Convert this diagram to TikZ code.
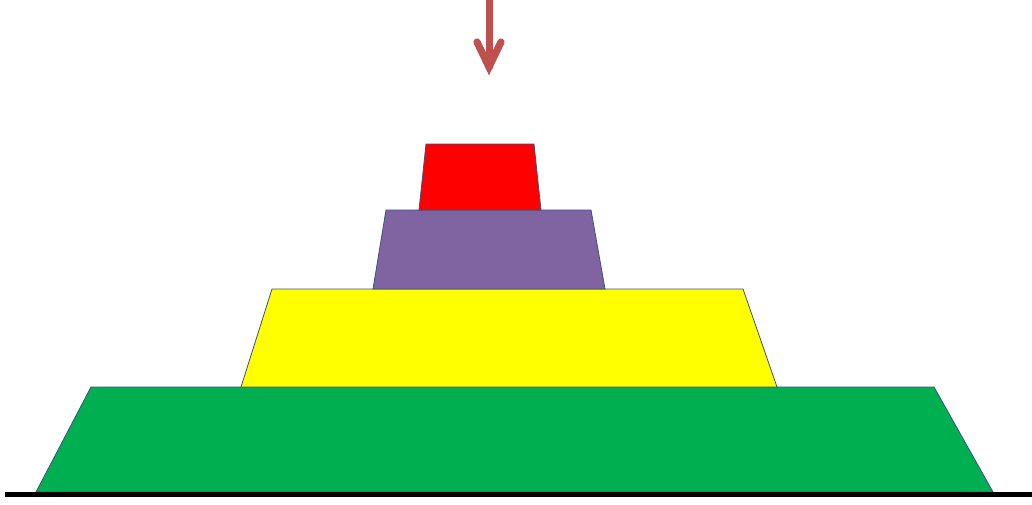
\documentclass[tikz,border=0pt]{standalone}
\usetikzlibrary{calc}
\definecolor{tgreen}{RGB}{0,176,80}
\definecolor{tyellow}{RGB}{255,255,0}
\definecolor{tpurple}{RGB}{128,100,162}
\definecolor{tred}{RGB}{255,0,0}
\definecolor{tedge}{RGB}{56,83,130}
\definecolor{tarrow}{RGB}{192,80,77}
\definecolor{tshadow}{RGB}{150,150,150}
\tikzset{
  layer/.style={draw=tedge, line width=0.8pt, line join=miter},
  arrowline/.style={draw=tarrow, line width=7pt, line cap=round, line join=miter},
  arrowshadow/.style={draw=tshadow, line width=7pt, line cap=round, line join=miter}
}
\begin{document}
\begin{tikzpicture}[x=1pt,y=-1pt]
\useasboundingbox (0,0) rectangle (1032,504);
% layers
\filldraw[layer, fill=tgreen] (36,492) -- (91,387) -- (934,387) -- (993,492) -- cycle;
\filldraw[layer, fill=tyellow] (241,387) -- (272,289) -- (743,289) -- (777,387) -- cycle;
\filldraw[layer, fill=tpurple] (373,289) -- (386,210) -- (591,210) -- (605,289) -- cycle;
\filldraw[layer, fill=tred] (419,210) -- (426,144) -- (534,144) -- (541,210) -- cycle;
% ground
\coordinate (gl) at (5,494.5);
\coordinate (gr) at (1032,494.5);
\draw[black, line width=5pt] (gl) -- (gr);
% arrow
\coordinate (atop) at (489,-5);
\coordinate (atip) at (489,67);
\coordinate (al) at (477,42);
\coordinate (ar) at (501,42);
\begin{scope}[shift={(2,3)}]
\draw[arrowshadow] (atop) -- (atip);
\draw[arrowshadow] (al) -- (atip) -- (ar);
\end{scope}
\draw[arrowline] (atop) -- (atip);
\draw[arrowline] (al) -- (atip) -- (ar);
\end{tikzpicture}
\end{document}
